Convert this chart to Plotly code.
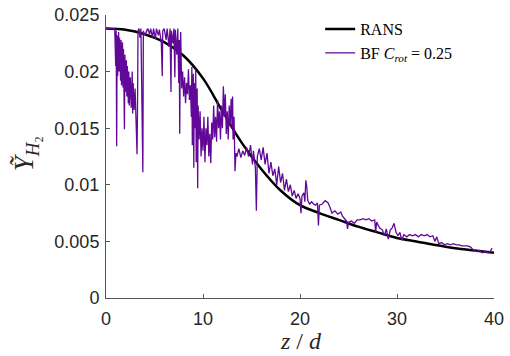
import plotly.graph_objects as go

# RANS profile
rans_z = [0, 2, 4, 6, 8, 10, 12, 14, 16, 18, 20, 22, 24, 26, 28, 30, 32, 34, 36, 38, 40]
rans_y = [0.0238, 0.0237, 0.0233, 0.0226, 0.0214, 0.0194, 0.0165, 0.0137, 0.0114, 0.0095,
          0.0082, 0.0075, 0.0069, 0.0063, 0.0058, 0.0053, 0.0050, 0.00468, 0.0044, 0.0042, 0.0040]

# BF C_rot = 0.25 profile
bf_z = [0, 0.9, 1.0, 1.05, 1.1, 1.15, 1.2, 1.3, 1.35, 1.4, 1.5, 1.55, 1.6, 1.7, 1.75, 1.8, 1.9, 1.95,
        2.0, 2.1, 2.15, 2.2, 2.3, 2.35, 2.4, 2.5, 2.6, 2.7, 2.75, 2.8, 2.9, 3.0, 3.1, 3.2, 3.25, 3.3,
        3.4, 3.5, 3.6, 3.8, 3.85, 4.0, 4.3, 4.5, 4.6, 4.8, 4.9, 5.1, 5.2, 5.4, 5.5, 5.7, 5.8, 5.85,
        6.0, 6.2, 6.3, 6.5, 6.6, 6.7, 6.75, 6.9, 7.0, 7.1, 7.15, 7.3, 7.4, 7.5, 7.55, 7.6, 7.65, 7.7,
        7.8, 7.9, 8.0, 8.1, 8.2, 8.3, 8.4, 8.5, 8.6, 8.7, 8.8, 8.85, 8.9, 9.0, 9.05, 9.1, 9.2, 9.25,
        9.3, 9.4, 9.45, 9.5, 9.6, 9.7, 9.8, 9.9, 10.0, 10.1, 10.2, 10.3, 10.4, 10.5, 10.6, 10.7, 10.8,
        10.9, 11.0, 11.1, 11.2, 11.3, 11.4, 11.5, 11.6, 11.7, 11.8, 11.9, 12.0, 12.1, 12.2, 12.3, 12.4,
        12.5, 12.6, 12.7, 12.8, 12.9, 13.0, 13.05, 13.1, 13.2, 13.3, 13.4, 13.5, 13.7, 13.9, 14.1,
        14.3, 14.5, 14.7, 14.9, 15.1, 15.2, 15.4, 15.5, 15.6, 15.8, 16.0, 16.2, 16.4, 16.6, 16.8,
        17.0, 17.2, 17.4, 17.6, 17.8, 18.0, 18.2, 18.4, 18.6, 18.8, 19.0, 19.2, 19.4, 19.6, 19.8,
        20.0, 20.1, 20.2, 20.4, 20.5, 20.6, 20.7, 20.8, 21.0, 21.2, 21.4, 21.6, 21.8, 21.9, 22.0,
        22.3, 22.6, 22.9, 23.1, 23.3, 23.6, 23.9, 24.2, 24.4, 24.6, 24.8, 24.9, 25.0, 25.3, 25.6,
        25.9, 26.2, 26.5, 26.8, 27.1, 27.4, 27.7, 27.8, 27.9, 28.2, 28.5, 28.7, 28.9, 29.1, 29.3,
        29.5, 29.7, 29.9, 30.1, 30.3, 30.5, 30.7, 31.0, 31.3, 31.6, 31.9, 32.2, 32.5, 32.8, 33.1,
        33.4, 33.7, 33.9, 34.1, 34.3, 34.6, 34.9, 35.2, 35.5, 35.8, 36.1, 36.4, 36.7, 37.0, 37.3,
        37.6, 37.9, 38.2, 38.5, 38.8, 39.1, 39.4, 39.6, 39.8]
bf_y = [0.0238, 0.0238, 0.0205, 0.0236, 0.0134, 0.0232, 0.0196, 0.0235, 0.0200, 0.0230, 0.0192,
        0.0228, 0.0188, 0.0226, 0.0186, 0.0220, 0.0149, 0.0215, 0.0182, 0.0210, 0.0178, 0.0205,
        0.0172, 0.0200, 0.0170, 0.0195, 0.0168, 0.0200, 0.0163, 0.0190, 0.0166, 0.0185, 0.0163,
        0.0127, 0.0170, 0.0236, 0.0238, 0.0230, 0.0238, 0.0111, 0.0236, 0.0232, 0.0238, 0.0233,
        0.0238, 0.0230, 0.0238, 0.0229, 0.0238, 0.0232, 0.0237, 0.0226, 0.0196, 0.0236, 0.0238,
        0.0228, 0.0238, 0.0222, 0.0238, 0.0182, 0.0236, 0.0225, 0.0238, 0.0195, 0.0237, 0.0215,
        0.0238, 0.0190, 0.0228, 0.0145, 0.0210, 0.0235, 0.0185, 0.0200, 0.0178, 0.0195, 0.0172,
        0.0190, 0.0180, 0.0202, 0.0175, 0.0188, 0.0160, 0.0204, 0.0135, 0.0198, 0.0115, 0.0190,
        0.0150, 0.0202, 0.0120, 0.0185, 0.0097, 0.0170, 0.0140, 0.0165, 0.0125, 0.0150, 0.0130,
        0.0160, 0.0120, 0.0150, 0.0135, 0.0160, 0.0125, 0.0145, 0.0119, 0.0155, 0.0140, 0.0170,
        0.0142, 0.0160, 0.0138, 0.0175, 0.0150, 0.0165, 0.0140, 0.0170, 0.0150, 0.0187, 0.0160,
        0.0180, 0.0145, 0.0165, 0.0140, 0.0170, 0.0152, 0.0176, 0.0150, 0.0178, 0.0140, 0.0160,
        0.0112, 0.0128, 0.0125, 0.0132, 0.0124, 0.0130, 0.0126, 0.0133, 0.0125, 0.0135, 0.0118,
        0.0130, 0.0115, 0.0077, 0.0125, 0.0132, 0.0122, 0.0133, 0.0118, 0.0128, 0.0110, 0.0120,
        0.0108, 0.0114, 0.0100, 0.0116, 0.0102, 0.0110, 0.0095, 0.0105, 0.0094, 0.0100, 0.0090,
        0.0095, 0.0088, 0.0092, 0.0088, 0.0075, 0.0090, 0.0093, 0.0085, 0.0104, 0.0098, 0.0086,
        0.0083, 0.0085, 0.0083, 0.0082, 0.0084, 0.0064, 0.0082, 0.0083, 0.0086, 0.0084, 0.0080,
        0.0075, 0.0077, 0.0074, 0.0076, 0.0072, 0.0070, 0.0068, 0.0061, 0.0067, 0.0068, 0.0066,
        0.0069, 0.0069, 0.0070, 0.0069, 0.0070, 0.0068, 0.0069, 0.0058, 0.0067, 0.0062, 0.0060,
        0.0055, 0.0061, 0.0052, 0.0060, 0.0062, 0.0066, 0.0058, 0.0055, 0.0058, 0.0051, 0.0056,
        0.0054, 0.0056, 0.0055, 0.0056, 0.0054, 0.0056, 0.0055, 0.0056, 0.0054, 0.0055, 0.0050,
        0.0054, 0.0048, 0.0049, 0.0047, 0.0048, 0.0047, 0.0048, 0.0047, 0.0047, 0.0046, 0.0046,
        0.0046, 0.0045, 0.0042, 0.0041, 0.0042, 0.0040, 0.0041, 0.0040, 0.0041, 0.0044]

x_ticks = [0, 10, 20, 30, 40]
y_ticks = [0, 0.005, 0.01, 0.015, 0.02, 0.025]
y_tick_labels = ["0", "0.005", "0.01", "0.015", "0.02", "0.025"]

fig = go.Figure()
fig.add_trace(go.Scatter(x=rans_z, y=rans_y, mode="lines", name="RANS",
                         line=dict(color="black", width=2.5, shape="spline", smoothing=1.0)))
fig.add_trace(go.Scatter(x=bf_z, y=bf_y, mode="lines",
                         name="BF <i>C<sub>rot</sub></i> = 0.25",
                         line=dict(color="#620898", width=1.3)))

axis_common = dict(showline=True, linecolor="#555555", linewidth=1, ticks="inside",
                   ticklen=4, tickcolor="#555555", showgrid=False, zeroline=False,
                   automargin=False, ticklabeloverflow="allow",
                   tickfont=dict(family="Liberation Sans, Arial", size=18, color="#262626"))

fig.update_xaxes(range=[0, 40], tickvals=x_ticks, ticklabelstandoff=4, **axis_common)
fig.update_yaxes(range=[0, 0.025], tickvals=y_ticks, ticktext=y_tick_labels,
                 ticklabelstandoff=2, **axis_common)

fig.add_annotation(text="<i>z</i> / <i>d</i>", xref="paper", yref="paper",
                   x=0.503, y=-0.152, xanchor="center", yanchor="middle", showarrow=False,
                   font=dict(family="Liberation Serif, serif", size=24, color="#262626"))
fig.add_annotation(text="<i>Ỹ</i><sub><i>H</i>₂</sub>", xref="paper", yref="paper",
                   x=-0.207, y=0.51, xanchor="center", yanchor="middle", showarrow=False,
                   textangle=-90,
                   font=dict(family="Liberation Serif, serif", size=27, color="#262626"))

fig.update_layout(width=510, height=356, margin=dict(l=106, r=16, t=13, b=58),
                  plot_bgcolor="white", paper_bgcolor="white",
                  legend=dict(x=0.552, y=1.01, xanchor="left", yanchor="top",
                              bgcolor="rgba(255,255,255,0)", borderwidth=0,
                              font=dict(family="Liberation Serif, serif", size=16, color="black"),
                              tracegroupgap=0),
                  showlegend=True)

# remove the browser's default 8px body margin so the figure fills the window exactly
fig.write_html("out.html", config={"displayModeBar": False},
               post_script="document.body.style.margin='0';document.body.style.overflow='hidden';")
